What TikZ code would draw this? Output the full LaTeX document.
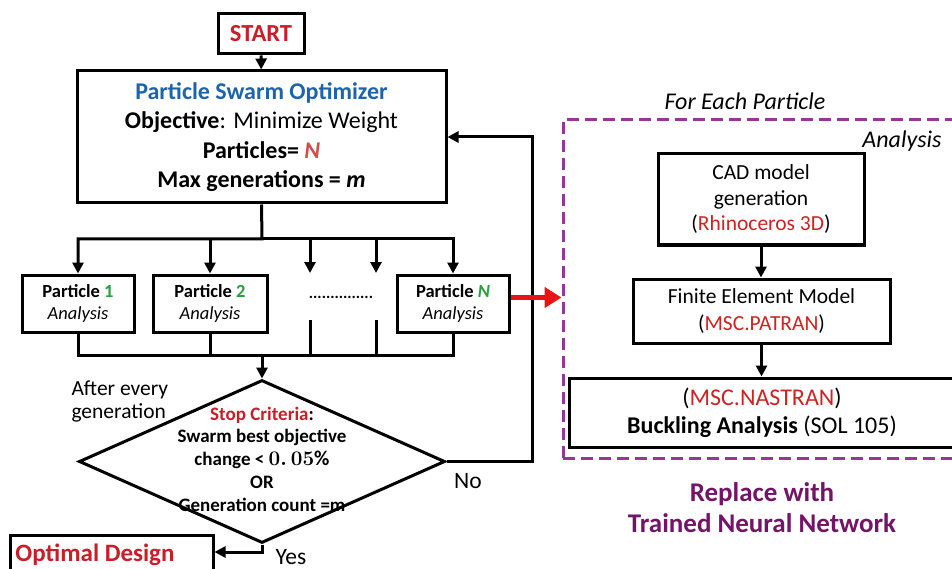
\documentclass[tikz,border=0pt]{standalone}
\usepackage{fontspec}
\setmainfont{Carlito}
\usetikzlibrary{arrows.meta,shapes.geometric,calc}

\definecolor{keyred}{RGB}{200,30,40}
\definecolor{toolred}{RGB}{205,35,35}
\definecolor{nred}{RGB}{205,80,70}
\definecolor{psoblue}{RGB}{30,100,170}
\definecolor{pgreen}{RGB}{40,160,60}
\definecolor{dashpurple}{RGB}{150,55,150}
\definecolor{nnpurple}{RGB}{115,20,105}
\definecolor{arrowred}{RGB}{230,20,20}

\newcommand\fs[2]{\fontsize{#1}{#2}\selectfont}

\begin{document}
\begin{tikzpicture}[x=1pt,y=-1pt,
  box/.style={draw=black,line width=3pt,inner sep=0pt,align=center},
  wire/.style={line width=3pt},
  flow/.style={line width=3pt,-{Triangle[length=11pt,width=11pt]}},
  bigarrow/.style={draw=arrowred,line width=5pt,-{Triangle[length=17pt,width=20pt]}},
  plabel/.style={font=\fs{18.5}{22}},
]
\clip (0,0) rectangle (952,569);
\fill[white] (0,0) rectangle (952,569);

% --- optimizer part ---
\node[box,minimum width=86pt,minimum height=40pt,font=\fs{24.5}{28}\bfseries,text=keyred] (start) at (261,34) {START};

\node[box,minimum width=369pt,minimum height=132pt,font=\fs{24}{29.5}] (pso) at (261.5,137)
  {\textcolor{psoblue}{\bfseries Particle Swarm Optimizer}\\
   \textbf{Objective}: Minimize Weight\\
   \textbf{Particles= \textcolor{nred}{\itshape N}}\\
   \textbf{Max generations = \itshape m}};

\node[box,plabel,minimum width=112pt,minimum height=57pt] (p1) at (78,303.5)
  {\textbf{Particle \textcolor{pgreen}{1}}\\ \textit{Analysis}};
\node[box,plabel,minimum width=114pt,minimum height=57pt] (p2) at (210,303.5)
  {\textbf{Particle \textcolor{pgreen}{2}}\\ \textit{Analysis}};
\node[box,plabel,minimum width=112pt,minimum height=57pt] (pn) at (453,303.5)
  {\textbf{Particle \textcolor{pgreen}{\itshape N}}\\ \textit{Analysis}};
\node[font=\fs{16}{20}\bfseries] (dots) at (341,297) {...............};

\coordinate (top) at (262,239);
\coordinate (bot) at (262,355);
\coordinate (g1) at (310,273);
\coordinate (g2) at (376,273);
\coordinate (s1) at (310,320);
\coordinate (s2) at (376,320);

% fan out to the particles
\draw[flow] (start) -- (pso);
\draw[flow] (pso.south) -- (top) -| (p1.north);
\draw[flow] (top) -| (pn.north);
\draw[flow] (p2.north |- top) -- (p2.north);
\draw[flow] (g1 |- top) -- (g1);
\draw[flow] (g2 |- top) -- (g2);

% gather the results
\draw[wire] (p1.south) |- (bot) -| (pn.south);
\draw[wire] (p2.south) -- (p2.south |- bot);
\draw[wire] (s1) -- (s1 |- bot);
\draw[wire] (s2) -- (s2 |- bot);

% stop test
\node[draw,line width=3pt,diamond,inner sep=0pt,minimum width=366pt,minimum height=163pt] (stop) at (262,461.5) {};
\node[font=\fs{19}{22.75}\bfseries,align=center] (stoptext) at (262,459)
  {\textcolor{keyred}{Stop Criteria}:\\
   Swarm best objective\\
   change < {\boldmath\fs{21}{22.75}$0.\,05\%$}\\
   OR\\
   Generation count =m};
\draw[flow] (bot) -- (stop.north);

\node[font=\fs{21.5}{23},align=left,anchor=west] (after) at (68,401.5) {After every\\ generation};

\coordinate (loop) at (532,300);
\draw[flow] (stop.east) -| (loop) |- (pso.east);
\node[font=\fs{23.5}{26}] (nolabel) at (468,481) {No};

\node[box,minimum width=203pt,minimum height=60pt] (opt) at (111.5,565) {};
\node[font=\fs{25}{28}\bfseries,text=keyred] (opttext) at (95,555) {Optimal Design};
\coordinate (yturn) at (262,552);
\draw[flow] (stop.south) -- (yturn) -- (opt.east |- yturn);
\node[font=\fs{23.5}{26}] (yeslabel) at (291,557) {Yes};

% --- analysis of each particle ---
\node[draw=dashpurple,line width=3pt,dash pattern=on 12pt off 6pt,minimum width=397pt,minimum height=338pt,inner sep=0pt] (each) at (761.5,289) {};
\node[font=\fs{24}{27}\itshape] (eachlabel) at (745,101) {For Each Particle};
\node[font=\fs{24}{27}\itshape,anchor=east] (analabel) at (945,141) {Analysis};

\coordinate (handoff) at ([yshift=6pt]pn.east);
\draw[bigarrow] (handoff) -- (each.west |- handoff);

\node[box,minimum width=206pt,minimum height=91pt,font=\fs{21.5}{25.5}] (cad) at (761,199.5)
  {CAD model\\ generation\\ (\textcolor{toolred}{Rhinoceros 3D})};
\node[box,minimum width=257pt,minimum height=64pt,font=\fs{21.5}{27}] (fem) at (761.5,311)
  {Finite Element Model\\ (\textcolor{toolred}{MSC.PATRAN})};
\node[box,minimum width=386pt,minimum height=69pt,font=\fs{24}{28}] (nas) at (762,412.5)
  {(\textcolor{toolred}{MSC.NASTRAN})\\ \textbf{Buckling Analysis} (SOL 105)};

\draw[flow] (cad.south) -- (cad.south |- fem.north);
\draw[flow] (fem.south) -- (fem.south |- nas.north);

\node[font=\fs{27}{31}\bfseries,text=nnpurple,align=center] (replace) at (762,507.5)
  {Replace with\\ Trained Neural Network};
\end{tikzpicture}
\end{document}
